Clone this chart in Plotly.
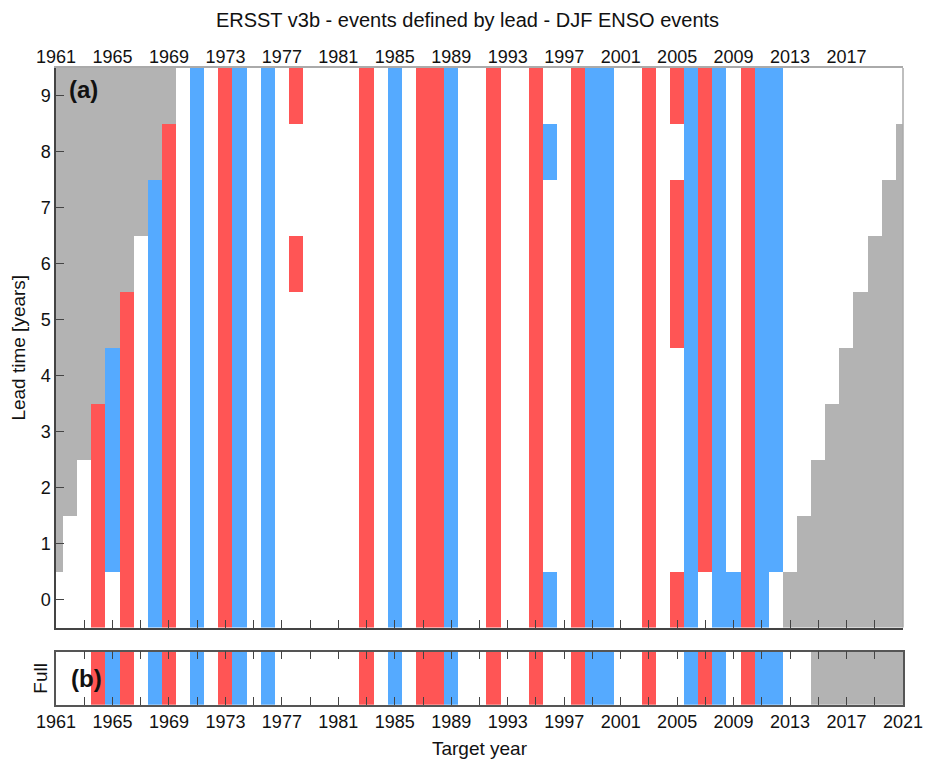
import plotly.graph_objects as go

# ---------------- data ----------------
target_years = list(range(1961, 2022))
lead_times = list(range(0, 10))

# Panel (a): events defined by lead
# El Nino years (red) present at all available leads
nino_all_leads = [1964, 1966, 1969, 1973, 1983, 1987, 1988, 1992, 1995, 1998, 2003, 2010]
# El Nino years present only at some leads
nino_partial_years = [1978, 2005, 2007]
nino_partial_leads = [[6, 9], [0, 5, 6, 7, 9], [1, 2, 3, 4, 5, 6, 7, 8, 9]]

# La Nina years (blue) present at all available leads
nina_all_leads = [1968, 1971, 1974, 1976, 1985, 1989, 1999, 2000, 2006, 2008, 2011]
nina_partial_years = [1965, 1996, 2009, 2012]
nina_partial_leads = [[1, 2, 3, 4], [0, 8], [0], [1, 2, 3, 4, 5, 6, 7, 8, 9]]

# No-data (grey) region: early years only have leads up to a max,
# late years only have leads from a min
early_years = [1961, 1962, 1963, 1964, 1965, 1966, 1967, 1968, 1969]
early_max_lead = [0, 1, 2, 3, 4, 5, 6, 7, 8]
late_years = [2013, 2014, 2015, 2016, 2017, 2018, 2019, 2020, 2021]
late_min_lead = [1, 2, 3, 4, 5, 6, 7, 8, 9]

# Panel (b): full record events
full_nino = [1964, 1966, 1969, 1973, 1983, 1987, 1988, 1992, 1995, 1998, 2003, 2007, 2010]
full_nina = [1965, 1968, 1971, 1974, 1976, 1985, 1989, 1999, 2000, 2006, 2008, 2011, 2012]
full_nodata = [2015, 2016, 2017, 2018, 2019, 2020, 2021]

top_tick_labels = [1961, 1965, 1969, 1973, 1977, 1981, 1985, 1989, 1993, 1997, 2001, 2005, 2009, 2013, 2017]
bottom_tick_labels = [1961, 1965, 1969, 1973, 1977, 1981, 1985, 1989, 1993, 1997, 2001, 2005, 2009, 2013, 2017, 2021]
minor_ticks = list(range(1961, 2022, 2))

# ---------------- build grids (0 white, 1 red, 2 blue, 3 grey) ----------------
WHITE, RED, BLUE, GREY = 0, 1, 2, 3
za = [[WHITE for _ in target_years] for _ in lead_times]
col = {y: i for i, y in enumerate(target_years)}

for y in nino_all_leads:
    for L in lead_times:
        za[L][col[y]] = RED
for y, leads in zip(nino_partial_years, nino_partial_leads):
    for L in leads:
        za[L][col[y]] = RED
for y in nina_all_leads:
    for L in lead_times:
        za[L][col[y]] = BLUE
for y, leads in zip(nina_partial_years, nina_partial_leads):
    for L in leads:
        za[L][col[y]] = BLUE
for y, m in zip(early_years, early_max_lead):
    for L in lead_times:
        if L > m:
            za[L][col[y]] = GREY
for y, m in zip(late_years, late_min_lead):
    for L in lead_times:
        if L < m:
            za[L][col[y]] = GREY

zb = [[WHITE for _ in target_years]]
for y in full_nino:
    zb[0][col[y]] = RED
for y in full_nina:
    zb[0][col[y]] = BLUE
for y in full_nodata:
    zb[0][col[y]] = GREY

red = "#FF5555"
blue = "#55AAFF"
grey = "#B3B3B3"
cscale = [[0, "#FFFFFF"], [1/6, "#FFFFFF"], [1/6, red], [0.5, red],
          [0.5, blue], [5/6, blue], [5/6, grey], [1, grey]]

fig = go.Figure()
fig.add_trace(go.Heatmap(x=target_years, y=lead_times, z=za, colorscale=cscale,
                         zmin=0, zmax=3, showscale=False, hoverinfo="skip",
                         xaxis="x", yaxis="y"))
fig.add_trace(go.Heatmap(x=target_years, y=[0], z=zb, colorscale=cscale,
                         zmin=0, zmax=3, showscale=False, hoverinfo="skip",
                         xaxis="x2", yaxis="y2"))
# invisible trace for top axis
fig.add_trace(go.Scatter(x=[1961, 2021], y=[0, 0], mode="markers",
                         marker=dict(opacity=0), hoverinfo="skip",
                         xaxis="x3", yaxis="y", showlegend=False))

FONT = "Liberation Sans, Arial, Helvetica, sans-serif"
dark = "#444444"
light = "#AAAAAA"

W, H = 935, 760
ml, mr, mt, mb = 56, 32, 68, 55
ph = H - mt - mb
a_bottom = (705 - 627.5) / ph
b_top = (705 - 651.7) / ph
TICK = 18
TITLE = 19

fig.update_layout(
    width=W, height=H,
    margin=dict(l=ml, r=mr, t=mt, b=mb, pad=0, autoexpand=False),
    paper_bgcolor="white", plot_bgcolor="white",
    font=dict(family=FONT, size=TICK, color="#111111"),
    showlegend=False,
    title=dict(text="ERSST v3b - events defined by lead - DJF ENSO events",
               x=0.5, xanchor="center", xref="container",
               y=1 - 20 / H, yanchor="middle", yref="container",
               font=dict(size=20, family=FONT, color="#111111")),
    xaxis=dict(domain=[0, 1], anchor="y", range=[1961, 2021], automargin=False,
               tickvals=minor_ticks, ticks="inside", ticklen=8, tickcolor=dark,
               showticklabels=False, showline=True, linecolor=dark, linewidth=1.5,
               showgrid=False, zeroline=False),
    xaxis3=dict(overlaying="x", anchor="y", side="top", range=[1961, 2021],
                automargin=False, ticklabelstandoff=-4,
                tickvals=top_tick_labels, ticktext=[str(v) for v in top_tick_labels],
                ticks="", ticklen=0, showline=True, linecolor=light, linewidth=1.5,
                showgrid=False, zeroline=False, tickfont=dict(size=TICK)),
    yaxis=dict(domain=[a_bottom, 1], anchor="x", range=[-0.5, 9.5], automargin=False,
               tickvals=lead_times, ticks="inside", ticklen=8, tickcolor=dark,
               showline=True, linecolor=dark, linewidth=1.5, showgrid=False,
               zeroline=False, tickfont=dict(size=TICK),
               title=dict(text="Lead time [years]", font=dict(size=TITLE), standoff=10)),
    xaxis2=dict(domain=[0, 1], anchor="y2", range=[1961, 2021], automargin=False,
                tickvals=minor_ticks,
                ticktext=[str(v) if v in bottom_tick_labels else "" for v in minor_ticks],
                ticks="inside", ticklen=8, tickcolor=dark, mirror="ticks",
                showline=True, linecolor="#555555", linewidth=1.5,
                showgrid=False, zeroline=False, tickfont=dict(size=TICK),
                title=dict(text="Target year", font=dict(size=TITLE), standoff=10)),
    yaxis2=dict(domain=[0, b_top], anchor="x2", range=[-0.5, 0.5], automargin=False,
                showticklabels=False, ticks="", showline=True, mirror=True,
                linecolor="#555555", linewidth=1.5, showgrid=False, zeroline=False,
                title=dict(text="Full", font=dict(size=TITLE), standoff=2)),
    shapes=[dict(type="line", xref="x domain", yref="y domain",
                 x0=1, x1=1, y0=0, y1=1, line=dict(color=light, width=1.5))],
    annotations=[
        dict(text="<b>(a)</b>", xref="x domain", yref="y domain", x=0.013, y=0.961,
             xanchor="left", yanchor="middle", showarrow=False,
             font=dict(size=24, family=FONT, color="#111111")),
        dict(text="<b>(b)</b>", xref="x2 domain", yref="y2 domain", x=0.015, y=0.5,
             xanchor="left", yanchor="middle", showarrow=False,
             font=dict(size=24, family=FONT, color="#111111")),
    ],
)

fig.write_html("out.html")
